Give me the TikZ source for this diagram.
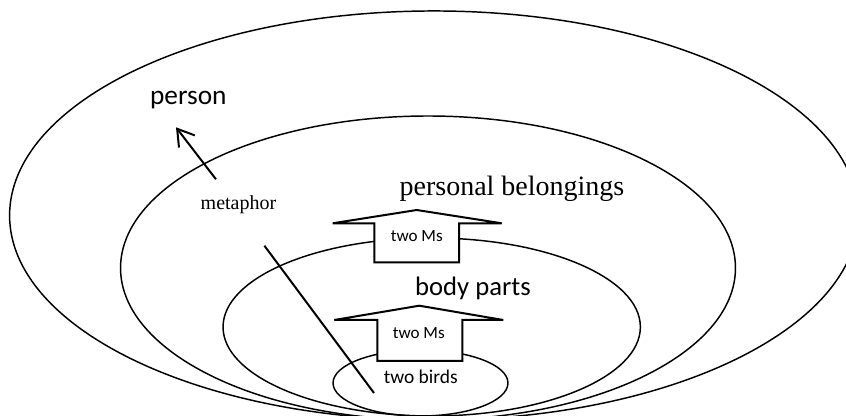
\documentclass[tikz,border=0pt]{standalone}
\usepackage{fontspec}
\setmainfont{Liberation Serif}
\newfontfamily\labelsans{Carlito}
\usetikzlibrary{arrows.meta}
\begin{document}
\begin{tikzpicture}[x=0.75pt,y=-0.75pt,
  ring/.style={line width=1.1pt},
  blockarrow/.style={line width=1.5pt, line join=miter, fill=white},
  txt/.style={inner sep=0pt, anchor=base},
  sanslabel/.style={txt, font=\labelsans\fontsize{20.5pt}{24pt}\selectfont},
  seriflabel/.style={txt, font=\fontsize{21pt}{25pt}\selectfont}]
\useasboundingbox (0,0) rectangle (846,416);
\fill[white] (0,0) rectangle (846,416);

% nested domains (the lower edges run off the bottom)
\begin{scope}
\clip (0,0) rectangle (846,416);
\draw[ring] (434,215.5) ellipse [x radius=318.3pt, y radius=153.4pt];
\draw[ring] (428,268) ellipse [x radius=230.6pt, y radius=114pt];
\draw[ring] (431.7,327) ellipse [x radius=156.5pt, y radius=66.75pt];
\draw[ring] (420.5,383) ellipse [x radius=65.6pt, y radius=24.75pt];
\end{scope}

% block arrows between levels
\draw[blockarrow] (374.3,223.3) -- (332.7,223.3) -- (416.7,210) -- (501.7,223.3)
  -- (459,223.3) -- (459,262.3) -- (374.3,262.3) -- cycle;
\draw[blockarrow] (377.3,320) -- (334.3,320) -- (419.3,305.7) -- (503.3,320)
  -- (462.3,320) -- (462.3,361) -- (377.3,361) -- cycle;

% labels
\node[sanslabel] (person) at (188.3,105) {person};
\node[seriflabel] (belong) at (512,195.5) {personal belongings};
\node[sanslabel, font=\labelsans\fontsize{20pt}{24pt}\selectfont] (body) at (473,296) {body parts};
\node[txt, font=\fontsize{15pt}{18pt}\selectfont] (metaphor) at (238.5,210) {metaphor};
\node[txt, font=\labelsans\fontsize{12.8pt}{15pt}\selectfont] (msup) at (416.8,241.7) {two Ms};
\node[txt, font=\labelsans\fontsize{12.8pt}{15pt}\selectfont] (mslow) at (418.8,338.3) {two Ms};
\node[txt, font=\labelsans\fontsize{14.6pt}{17pt}\selectfont] (birds) at (420.8,383.3) {two birds};

% metaphor arrow and slanted line
\coordinate (mstart) at (216,179.3);
\coordinate (mend) at (176,127.3);
\draw[line width=1.5pt, -{Straight Barb[length=12pt, width=15pt, line width=1.5pt]}] (mstart) -- (mend);
\coordinate (sa) at (264.4,245.7);
\coordinate (sb) at (374,393);
\draw[line width=1.5pt] (sa) -- (sb);
\end{tikzpicture}
\end{document}
